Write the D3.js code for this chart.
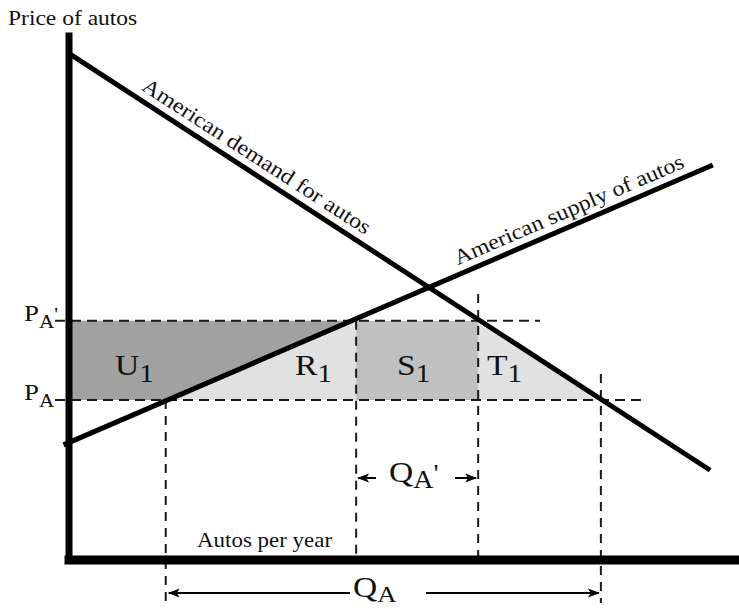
<!DOCTYPE html>
<html>
<head>
<meta charset="utf-8">
<script src="https://cdn.jsdelivr.net/npm/d3@7"></script>
<style>
  body { margin: 0; background: #fff; }
  text { font-family: "Liberation Serif", "Times New Roman", serif; fill: #111; }
</style>
</head>
<body>
<svg class="autos" width="739" height="609"></svg>
<script>
// Tariff on autos - demand/supply diagram with U1, R1, S1, T1 areas

// Lines, in quantity (0-100) / price (0-100) units
var demandLine = [{q: 0, p: 96}, {q: 95.7, p: 17}];
var supplyLine = [{q: -0.75, p: 21.8}, {q: 96.1, p: 74.8}];

// Price levels (PA' with tariff, PA world price)
var priceLevels = [{name: "P", sub: "A", prime: "'", p: 45.3},
                   {name: "P", sub: "A", prime: "", p: 30.3}];

// Quantities: supply at PA, supply at PA', demand at PA', demand at PA
var quantityMarks = [14.5, 42.9, 61.1, 79.4];

var lineLabels = ["American demand for autos", "American supply of autos"];
var regionLabels = ["U", "R", "S", "T"];
var axisTitles = ["Price of autos", "Autos per year"];

var svg = d3.select("svg.autos");

var x = d3.scaleLinear().domain([0, 100]).range([68.5, 739]);
var y = d3.scaleLinear().domain([0, 100]).range([560, 32]);

var pHi = priceLevels[0].p, pLo = priceLevels[1].p;
var q1 = quantityMarks[0], q2 = quantityMarks[1], q3 = quantityMarks[2], q4 = quantityMarks[3];

var sx = 1.12; // the original type is a bit wide

//--Shaded areas
var areas = [
    {pts: [[0, pHi], [q2, pHi], [q1, pLo], [0, pLo]], fill: "#a1a1a1"},
    {pts: [[q1, pLo], [q2, pHi], [q2, pLo]], fill: "#e1e1e1"},
    {pts: [[q2, pHi], [q3, pHi], [q3, pLo], [q2, pLo]], fill: "#c0c0c0"},
    {pts: [[q3, pHi], [q4, pLo], [q3, pLo]], fill: "#e1e1e1"}
];
svg.append("g").selectAll("path")
    .data(areas)
    .enter()
    .append("path")
    .attr("d", function(d) {
        return "M" + d.pts.map(function(c) { return x(c[0]) + "," + y(c[1]); }).join("L") + "Z";
    })
    .attr("fill", function(d) { return d.fill; });

//--Dashed guide lines
var dashes = svg.append("g")
    .attr("stroke", "#1a1a1a")
    .attr("stroke-width", 2);

dashes.append("line")   // PA'
    .attr("x1", 55).attr("x2", 540)
    .attr("y1", y(pHi)).attr("y2", y(pHi))
    .attr("stroke-dasharray", "10,6");
dashes.append("line")   // PA
    .attr("x1", 55).attr("x2", 642)
    .attr("y1", y(pLo)).attr("y2", y(pLo))
    .attr("stroke-dasharray", "10,6");

var vDash = [
    {q: q1, top: y(pLo), bottom: 603},
    {q: q2, top: y(pHi), bottom: 556},
    {q: q3, top: 294, bottom: 556},
    {q: q4, top: 374, bottom: 603}
];
dashes.selectAll("line.v")
    .data(vDash)
    .enter()
    .append("line")
    .attr("class", "v")
    .attr("x1", function(d) { return x(d.q); })
    .attr("x2", function(d) { return x(d.q); })
    .attr("y1", function(d) { return d.top; })
    .attr("y2", function(d) { return d.bottom; })
    .attr("stroke-dasharray", "9,7");

//--Demand and supply
var line = d3.line()
    .x(function(d) { return x(d.q); })
    .y(function(d) { return y(d.p); });

svg.append("path")
    .attr("d", line(demandLine))
    .attr("fill", "none")
    .attr("stroke", "#000")
    .attr("stroke-width", 5);
svg.append("path")
    .attr("d", line(supplyLine))
    .attr("fill", "none")
    .attr("stroke", "#000")
    .attr("stroke-width", 5);

//--Axes (no ticks, just the heavy rules)
var xAxis = svg.append("g")
    .attr("transform", "translate(0," + y(0) + ")")
    .call(d3.axisBottom(x).tickValues([]).tickSizeOuter(0));
xAxis.select(".domain").attr("stroke", "#000").attr("stroke-width", 9)
    .attr("d", "M" + (x(0) - 4) + ",0H" + x(100));

var yAxis = svg.append("g")
    .attr("transform", "translate(" + x(0) + ",0)")
    .call(d3.axisLeft(y).tickValues([]).tickSizeOuter(0));
yAxis.select(".domain").attr("stroke", "#000").attr("stroke-width", 7);

//--Arrows
var defs = svg.append("defs");
defs.append("marker")
    .attr("id", "head")
    .attr("markerUnits", "userSpaceOnUse")
    .attr("viewBox", "0 0 12 10")
    .attr("refX", 11).attr("refY", 5)
    .attr("markerWidth", 12).attr("markerHeight", 10)
    .attr("orient", "auto")
    .append("path")
    .attr("d", "M0,0.5L12,5L0,9.5L3,5Z")
    .attr("fill", "#000");

var arrows = [
    {from: 376, to: x(q2) + 2, y: 478},
    {from: 455, to: x(q3) - 2, y: 478},
    {from: 350, to: x(q1) + 3, y: 593},
    {from: 426, to: x(q4) - 2, y: 593}
];
svg.append("g").selectAll("line")
    .data(arrows)
    .enter()
    .append("line")
    .attr("x1", function(d) { return d.from; })
    .attr("x2", function(d) { return d.to; })
    .attr("y1", function(d) { return d.y; })
    .attr("y2", function(d) { return d.y; })
    .attr("stroke", "#000")
    .attr("stroke-width", 2)
    .attr("marker-end", "url(#head)");

//--Text helper: main glyph plus optional subscript and prime
function label(px, py, main, size, sub, subSize, subDy, prime, angle) {
    var t = svg.append("text")
        .attr("transform", "translate(" + px + "," + py + ") rotate(" + (angle || 0) + ") scale(" + sx + ",1)")
        .attr("font-size", size + "px");
    t.append("tspan").text(main);
    if (sub) {
        t.append("tspan").attr("font-size", subSize + "px").attr("dy", subDy).text(sub);
    }
    if (prime) {
        t.append("tspan").attr("font-size", subSize + "px").attr("dy", -subDy).text(prime);
    }
    return t;
}

label(8, 25, axisTitles[0], 21);
label(197, 547, axisTitles[1], 20.5);

priceLevels.forEach(function(d) {
    label(24, y(d.p), d.name, 24, d.sub, 19, 7, d.prime);
});

var regionX = [115, 295, 397, 487];
regionLabels.forEach(function(r, i) {
    label(regionX[i], 375, r, 30, "1", 26, 7);
});

label(389, 482, "Q", 30, "A", 25, 6, "'");
label(353, 597, "Q", 30, "A", 24, 5);

//--Line labels, laid along each line
function alongLine(data, q, offset, text) {
    var a = data[0], b = data[1];
    var ang = Math.atan2(y(b.p) - y(a.p), x(b.q) - x(a.q));
    var p = a.p + (b.p - a.p) * (q - a.q) / (b.q - a.q);
    var px = x(q) + offset * Math.sin(ang),
        py = y(p) - offset * Math.cos(ang);
    label(px, py, text, 21.5, null, 0, 0, null, ang * 180 / Math.PI);
}
alongLine(demandLine, 10.0, 9, lineLabels[0]);
alongLine(supplyLine, 58.6, 9, lineLabels[1]);
</script>
</body>
</html>
